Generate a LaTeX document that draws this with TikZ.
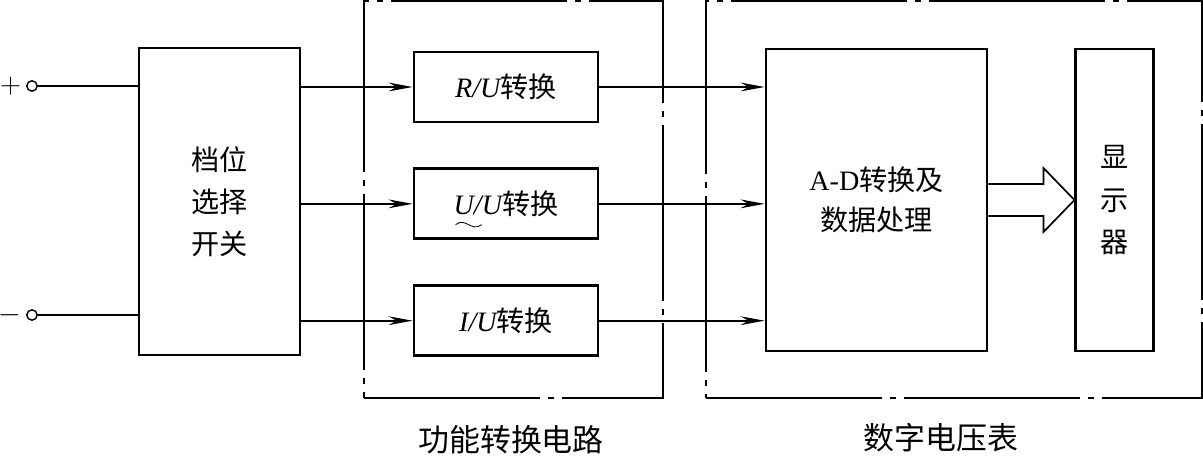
\documentclass[tikz,border=0pt]{standalone}
\usepackage{amsmath}
\usepackage{fontspec}
\setmainfont{Liberation Serif}
\newfontfamily\cjk{Noto Sans CJK SC}
\usetikzlibrary{arrows.meta,positioning}

\begin{document}
\begin{tikzpicture}[x=0.025cm,y=-0.025cm,
 >={Stealth[length=6mm,width=2.2mm,inset=2mm]},
 node distance=11mm and 21.5mm,
 every node/.style={font=\cjk\fontsize{20}{30}\selectfont},
 block/.style={draw,line width=2pt,align=center,inner sep=0pt},
 group/.style={draw,line width=0.9pt,inner sep=0pt,
   dash pattern=on 4.4cm off 2mm on 1.5mm off 2mm,
   minimum width=#1,minimum height=9.925cm},
 term/.style={draw,circle,line width=1pt,minimum size=2.6mm,inner sep=0pt},
 wire/.style={line width=1.2pt},
 flow/.style={->,wire}]
\useasboundingbox (0,0) rectangle (1203,461);
% frames
\node[group=7.475cm] (fconv) at (513.5,199.5) {};
\node[group=12.4cm] (dvm) at (954,199.5) {};
\node[font=\cjk\fontsize{22}{22}\selectfont] (lconv) at (511,440) {功能转换电路};
\node[font=\cjk\fontsize{22}{22}\selectfont] (ldvm) at (941,438) {数字电压表};
% inputs and switch
\node[term] (plus) at (32,86) {};
\node[term] (minus) at (32,315) {};
\node[left=0pt of plus,font=\rmfamily\fontsize{20}{20}\selectfont] (lplus) {$+$};
\node[left=0pt of minus,font=\rmfamily\fontsize{20}{20}\selectfont] (lminus) {$-$};
\node[block,minimum width=4.025cm,minimum height=7.675cm] (sw) at (219.5,201.5) {档位\\选择\\开关};
% converters
\node[block,minimum width=4.6cm,minimum height=1.75cm] (ru) at (506,87)
 {{\rmfamily\itshape R/U}转换};
\node[block,minimum width=4.6cm,minimum height=1.75cm,below=of ru] (uu)
 {{\rmfamily\itshape U/U}转换};
\node[block,minimum width=4.6cm,minimum height=1.75cm,below=of uu] (iu)
 {{\rmfamily\itshape I/U}转换};
% ac mark under the first U
\draw[line width=0.6pt] ([xshift=-12.6mm,yshift=-5.2mm]uu.center)
 .. controls +(2.5mm,2mm) and +(-2.5mm,-2mm) .. +(6.5mm,0);
% voltmeter
\node[block,minimum width=5.525cm,minimum height=7.55cm,
 font=\cjk\fontsize{20}{28}\selectfont] (ad) at (876.5,200)
 {{\rmfamily A-D}转换及\\数据处理};
\node[block,minimum width=1.95cm,minimum height=7.55cm,right=2.15cm of ad] (disp) {显\\示\\器};
% wiring
\draw[wire] (plus) -- (plus -| sw.west);
\draw[wire] (minus) -- (minus -| sw.west);
\foreach \b in {ru,uu,iu} {
 \draw[flow] (sw.east |- \b) -- (\b);
 \draw[flow] (\b) -- (ad.west |- \b);
}
\draw[wire] ([yshift=4mm]ad.east) -- ([xshift=-7.75mm,yshift=4mm]disp.west)
 -- ([xshift=-7.75mm,yshift=8mm]disp.west) -- (disp.west)
 -- ([xshift=-7.75mm,yshift=-8mm]disp.west) -- ([xshift=-7.75mm,yshift=-4mm]disp.west)
 -- ([yshift=-4mm]ad.east);
\end{tikzpicture}
\end{document}
